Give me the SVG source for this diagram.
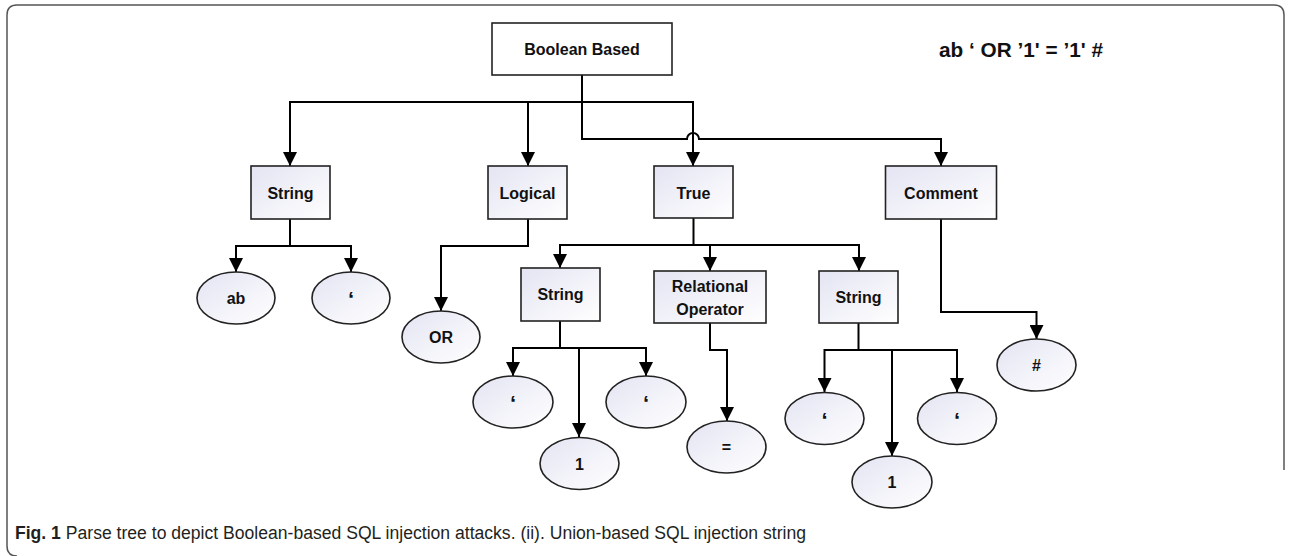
<svg xmlns="http://www.w3.org/2000/svg" width="1291" height="556" viewBox="0 0 1291 556">
<style>
.box{stroke:#222;stroke-width:1.6;fill:url(#g)}
.root{stroke:#222;stroke-width:1.6;fill:#fff}
.ell{stroke:#222;stroke-width:1.6;fill:url(#g)}
.t{font-family:"Liberation Sans",Arial,sans-serif;font-weight:bold;font-size:16px;fill:#111;text-anchor:middle}
.q{font-size:22px}
.c{fill:none;stroke:#000;stroke-width:2;marker-end:url(#a)}
.cap{font-family:"Liberation Sans Narrow","Liberation Sans",Arial,sans-serif;font-size:18px;fill:#231f20}
</style>
<defs>
<linearGradient id="g" x1="0" y1="0" x2="1" y2="1">
<stop offset="0" stop-color="#e4e4f3"/>
<stop offset="1" stop-color="#ffffff"/>
</linearGradient>
<marker id="a" markerUnits="userSpaceOnUse" markerWidth="14" markerHeight="14" refX="13" refY="6.5" orient="auto" viewBox="0 0 13 13">
<path d="M0,0 L13,6.5 L0,13 z" fill="#000"/>
</marker>
</defs>
<rect width="1291" height="556" fill="#fff"/>
<path d="M17,556 Q7,556 7,546 V15 Q7,5 17,5 H1274 Q1284,5 1284,15 V470" fill="none" stroke="#555" stroke-width="1.5"/>
<g id="connectors">
<path d="M582,75 V102" class="c" style="marker-end:none"/>
<path d="M582,102 H290 V166" class="c"/>
<path d="M582,102 H528 V166" class="c"/>
<path d="M582,102 H693 V166" class="c"/>
<path d="M582,102 V139 H687 A6,6 0 0 1 699,139 H941 V166" class="c"/>
<path d="M290,219 V246 H236 V272" class="c"/>
<path d="M290,246 H351 V272" class="c"/>
<path d="M528,219 V246 H441 V311" class="c"/>
<path d="M693.5,218 V245 H560 V268" class="c"/>
<path d="M693.5,245 H710 V271" class="c"/>
<path d="M693.5,245 H859 V271" class="c"/>
<path d="M560,321 V348 H513 V376" class="c"/>
<path d="M560,348 H646 V376" class="c"/>
<path d="M579,348 V437" class="c"/>
<path d="M710,323 V350 H727 V421" class="c"/>
<path d="M858.5,323 V350 H824.5 V392" class="c"/>
<path d="M858.5,350 H957 V392" class="c"/>
<path d="M892,350 V456" class="c"/>
<path d="M941,219 V312 H1036.5 V339" class="c"/>
</g>
<g id="root"><rect class="root" x="492" y="23" width="180" height="52"/><text class="t" x="582" y="55">Boolean Based</text></g>
<g id="string1"><rect class="box" x="251" y="166" width="79" height="53"/><text class="t" x="290.5" y="199">String</text></g>
<g id="logical"><rect class="box" x="488" y="166" width="79" height="53"/><text class="t" x="527.5" y="199">Logical</text></g>
<g id="true"><rect class="box" x="654" y="166" width="79" height="52"/><text class="t" x="693.5" y="199">True</text></g>
<g id="comment"><rect class="box" x="885.5" y="166" width="111" height="53"/><text class="t" x="941" y="199">Comment</text></g>
<g id="ab"><ellipse class="ell" cx="236" cy="298" rx="39" ry="26"/><text class="t" x="236" y="304">ab</text></g>
<g id="q1"><ellipse class="ell" cx="351" cy="298" rx="39" ry="26"/><text class="t q" x="351" y="307">‘</text></g>
<g id="or"><ellipse class="ell" cx="441" cy="337" rx="39" ry="26"/><text class="t" x="441" y="343">OR</text></g>
<g id="string2"><rect class="box" x="521" y="268" width="79" height="53"/><text class="t" x="560.5" y="300">String</text></g>
<g id="relop"><rect class="box" x="654" y="271" width="112" height="52"/><text class="t" x="710" y="292">Relational</text><text class="t" x="710" y="315">Operator</text></g>
<g id="string3"><rect class="box" x="819" y="271" width="79" height="52"/><text class="t" x="858.5" y="303">String</text></g>
<g id="q2"><ellipse class="ell" cx="513" cy="402" rx="40" ry="26"/><text class="t q" x="513" y="411">‘</text></g>
<g id="q3"><ellipse class="ell" cx="646" cy="402" rx="40" ry="26"/><text class="t q" x="646" y="411">‘</text></g>
<g id="one1"><ellipse class="ell" cx="579.5" cy="463.5" rx="39.5" ry="26"/><text class="t" x="579.5" y="469.5">1</text></g>
<g id="eq"><ellipse class="ell" cx="726.5" cy="447" rx="39.5" ry="26"/><text class="t" x="726.5" y="453">=</text></g>
<g id="q4"><ellipse class="ell" cx="824.5" cy="418.5" rx="39.5" ry="26"/><text class="t q" x="824.5" y="427.5">‘</text></g>
<g id="q5"><ellipse class="ell" cx="957" cy="418.5" rx="39.5" ry="26"/><text class="t q" x="957" y="427.5">‘</text></g>
<g id="one2"><ellipse class="ell" cx="892" cy="482" rx="40" ry="26"/><text class="t" x="892" y="488">1</text></g>
<g id="hash"><ellipse class="ell" cx="1036.5" cy="365" rx="39.5" ry="26"/><text class="t" x="1036.5" y="371">#</text></g>
<text x="939" y="57" font-family="Liberation Sans,Arial,sans-serif" font-weight="bold" font-size="20" fill="#111" textLength="164" lengthAdjust="spacingAndGlyphs">ab ‘ OR ’1' = ’1' #</text>
<text class="cap" x="15" y="539" textLength="791" lengthAdjust="spacingAndGlyphs"><tspan font-weight="bold">Fig. 1</tspan> Parse tree to depict Boolean-based SQL injection attacks. (ii). Union-based SQL injection string</text>
</svg>
